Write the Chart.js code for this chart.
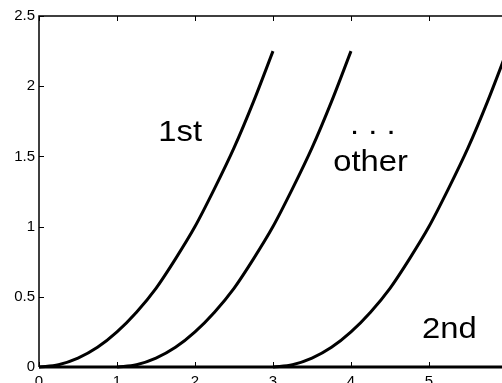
<!DOCTYPE html>
<html>
<head>
<meta charset="utf-8">
<script src="https://cdn.jsdelivr.net/npm/chart.js@4/dist/chart.umd.min.js"></script>
<style>
  html, body { margin: 0; padding: 0; background: #fff; overflow: hidden; }
  #wrap { width: 510px; height: 383px; }
</style>
</head>
<body>
<div id="wrap"><canvas id="c" width="510" height="383"></canvas></div>
<script>
// ---- data ----
const curve1X = [0, 0.25, 0.5, 0.75, 1, 1.25, 1.5, 1.75, 2, 2.25, 2.5, 2.75, 3];
const curve1Y = [0, 0.016, 0.063, 0.14, 0.25, 0.39, 0.56, 0.77, 1.0, 1.27, 1.56, 1.89, 2.25];
const curve2X = [1, 1.25, 1.5, 1.75, 2, 2.25, 2.5, 2.75, 3, 3.25, 3.5, 3.75, 4];
const curve2Y = [0, 0.016, 0.063, 0.14, 0.25, 0.39, 0.56, 0.77, 1.0, 1.27, 1.56, 1.89, 2.25];
const curve3X = [3, 3.25, 3.5, 3.75, 4, 4.25, 4.5, 4.75, 5, 5.25, 5.5, 5.75, 6];
const curve3Y = [0, 0.016, 0.063, 0.14, 0.25, 0.39, 0.56, 0.77, 1.0, 1.27, 1.56, 1.89, 2.25];
const baseX = [0, 6];
const baseY = [0, 0];
const xTicks = [0, 1, 2, 3, 4, 5];
const yTicks = [0, 0.5, 1, 1.5, 2, 2.5];
const noteText = ['1st', '. . .', 'other', '2nd'];
const noteX = [1.81, 4.28, 4.25, 5.26];
const noteY = [1.607, 1.66, 1.393, 0.207];

function pts(xs, ys) { return xs.map((x, i) => ({ x: x, y: ys[i] })); }

const FONT = '"Liberation Sans", Arial, Helvetica, sans-serif';

const framePlugin = {
  id: 'frame',
  beforeDatasetsDraw(chart) {
    const { ctx, chartArea: a, scales } = chart;
    ctx.save();
    ctx.strokeStyle = '#000';
    ctx.lineWidth = 1.5;
    ctx.beginPath();
    ctx.moveTo(a.left, a.bottom);
    ctx.lineTo(a.left, a.top);
    ctx.lineTo(a.right, a.top);
    ctx.lineTo(a.right, a.bottom);
    ctx.stroke();
    ctx.lineWidth = 1;
    ctx.beginPath();
    const tl = 5;
    xTicks.forEach(v => {
      const px = Math.round(scales.x.getPixelForValue(v)) + 0.5;
      ctx.moveTo(px, a.bottom); ctx.lineTo(px, a.bottom - tl);
      ctx.moveTo(px, a.top); ctx.lineTo(px, a.top + tl);
    });
    yTicks.forEach(v => {
      const py = Math.round(scales.y.getPixelForValue(v)) + 0.5;
      ctx.moveTo(a.left, py); ctx.lineTo(a.left + tl, py);
      ctx.moveTo(a.right, py); ctx.lineTo(a.right - tl, py);
    });
    ctx.stroke();
    ctx.restore();
  },
  afterDatasetsDraw(chart) {
    const { ctx, scales } = chart;
    ctx.save();
    ctx.fillStyle = '#000';
    ctx.font = '29px ' + FONT;
    ctx.textAlign = 'center';
    ctx.textBaseline = 'alphabetic';
    noteText.forEach((t, i) => {
      const px = scales.x.getPixelForValue(noteX[i]);
      const py = scales.y.getPixelForValue(noteY[i]);
      ctx.save();
      ctx.translate(px, py);
      ctx.scale(1.13, 1);
      ctx.fillText(t, 0, 0);
      ctx.restore();
    });
    ctx.restore();
  }
};

const lineDs = (data) => ({
  data: data,
  borderColor: '#000',
  borderWidth: 3,
  pointRadius: 0,
  fill: false,
  tension: 0.4,
  cubicInterpolationMode: 'monotone',
  clip: 6
});

const fmt = (v) => String(v);

new Chart(document.getElementById('c'), {
  type: 'line',
  data: {
    datasets: [
      lineDs(pts(baseX, baseY)),
      lineDs(pts(curve1X, curve1Y)),
      lineDs(pts(curve2X, curve2Y)),
      lineDs(pts(curve3X, curve3Y))
    ]
  },
  options: {
    responsive: false,
    animation: false,
    devicePixelRatio: 1,
    layout: { padding: { top: 16, right: 3, left: 0, bottom: 0 } },
    plugins: { legend: { display: false }, tooltip: { enabled: false } },
    scales: {
      x: {
        type: 'linear',
        min: 0, max: 6,
        afterFit(s) { s.height = 16; },
        afterBuildTicks(s) { s.ticks = xTicks.map(v => ({ value: v })); },
        grid: { display: false, drawTicks: false },
        border: { display: false },
        ticks: { color: '#000', font: { family: FONT, size: 15 }, padding: 6, maxRotation: 0, autoSkip: false, callback: fmt }
      },
      y: {
        type: 'linear',
        min: 0, max: 2.5,
        afterFit(s) { s.width = 39; },
        afterBuildTicks(s) { s.ticks = yTicks.map(v => ({ value: v })); },
        grid: { display: false, drawTicks: false },
        border: { display: false },
        ticks: { color: '#000', font: { family: FONT, size: 15 }, padding: 4, callback: fmt }
      }
    }
  },
  plugins: [framePlugin]
});
</script>
</body>
</html>
